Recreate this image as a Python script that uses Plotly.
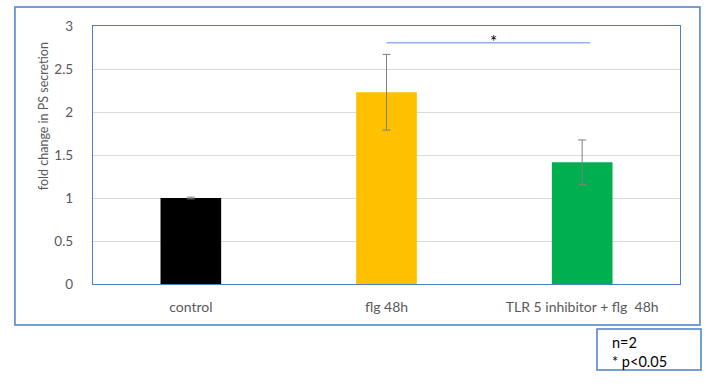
import plotly.graph_objects as go

categories = ["control", "flg 48h", "TLR 5 inhibitor + flg  48h"]
values = [1.0, 2.23, 1.415]
errors = [0.01, 0.44, 0.26]
bar_colors = ["#000000", "#ffc000", "#00b050"]
y_ticks = [0, 0.5, 1, 1.5, 2, 2.5, 3]
y_tick_labels = ["0", "0.5", "1", "1.5", "2", "2.5", "3"]
sig_from, sig_to, sig_level = 1.0, 2.04, 2.805
sig_label = "*"
note_lines = ["n=2", "* p<0.05"]
y_title = "fold change in PS secretion"

FONT = "Lato, Open Sans, sans-serif"
GREY = "#595959"
BLUE = "#4a7fc1"

fig = go.Figure()
fig.add_trace(go.Bar(
    x=categories, y=values,
    marker=dict(color=bar_colors, line=dict(width=0)),
    error_y=dict(type="data", array=errors, visible=True,
                 color="#7f7f7f", thickness=1, width=4),
    width=0.31,
    hoverinfo="skip",
))

fig.add_shape(type="line", xref="x", yref="y",
              x0=sig_from, x1=sig_to, y0=sig_level, y1=sig_level,
              line=dict(color="#8db4e2", width=1.5))
fig.add_annotation(x=1.545, y=sig_level, xref="x", yref="y",
                   text=sig_label, showarrow=False, yanchor="bottom", yshift=-11,
                   font=dict(family=FONT, size=17, color="#000000"))

# outer chart frame
fig.add_shape(type="rect", xref="paper", yref="paper",
              x0=-0.133, x1=1.034, y0=-0.159, y1=1.074,
              line=dict(color=BLUE, width=1.5))
# note box
fig.add_shape(type="rect", xref="paper", yref="paper",
              x0=0.8586, x1=1.0358, y0=-0.3333, y1=-0.1744,
              line=dict(color=BLUE, width=1.5))
fig.add_annotation(xref="paper", yref="paper", x=0.8805, y=-0.262,
                   text="<br>".join(note_lines), showarrow=False,
                   xanchor="left", yanchor="middle", align="left",
                   font=dict(family=FONT, size=14.5, color="#000000"))
# y-axis title
fig.add_annotation(xref="paper", yref="paper", x=-0.085, y=0.651,
                   text=y_title, textangle=-90, showarrow=False,
                   xanchor="center", yanchor="middle",
                   font=dict(family=FONT, size=12.5, color=GREY))

fig.update_layout(
    width=706, height=387,
    margin=dict(l=93, r=26, t=26, b=103),
    paper_bgcolor="white", plot_bgcolor="white",
    showlegend=False,
    bargap=0.69,
    font=dict(family=FONT, color=GREY),
)
fig.update_xaxes(
    showline=True, linecolor=BLUE, linewidth=1.2, mirror=True,
    showgrid=False, ticks="", ticklabelstandoff=10,
    tickfont=dict(family=FONT, size=14, color=GREY),
)
fig.update_yaxes(
    range=[0, 3], tickvals=y_ticks, ticktext=y_tick_labels,
    showline=True, linecolor=BLUE, linewidth=1.2, mirror=True,
    showgrid=True, gridcolor="#d9d9d9", gridwidth=1, zeroline=False,
    ticks="", ticklabelstandoff=16,
    tickfont=dict(family=FONT, size=13.5, color=GREY),
)

fig.write_html(
    "out.html",
    config={"displayModeBar": False},
    post_script="document.body.style.margin='0';document.body.style.overflow='hidden';",
)
